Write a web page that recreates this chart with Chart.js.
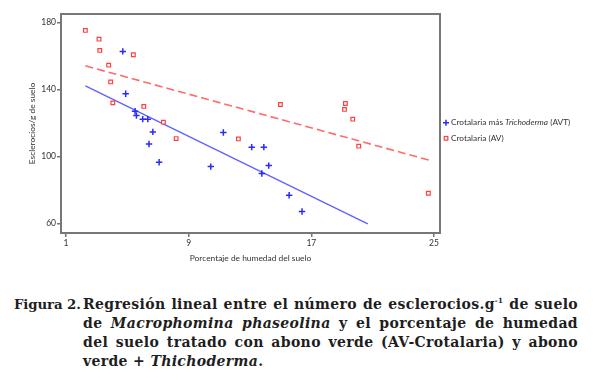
<!DOCTYPE html>
<html>
<head>
<meta charset="utf-8">
<script src="https://cdn.jsdelivr.net/npm/chart.js@4.4.1/dist/chart.umd.min.js"></script>
<style>
  html, body { margin: 0; padding: 0; background: #fff; }
  body { width: 600px; height: 378px; position: relative; overflow: hidden; }
  #chartBox { position: absolute; left: 0; top: 0; width: 600px; height: 280px; }
  #caption { position: absolute; left: 14px; top: 295px; width: 564px; display: flex;
    font-family: "DejaVu Serif", serif; font-weight: bold; font-size: 14px; line-height: 19px; color: #1e1e1e; }
  #caption .lab { width: 69px; flex: none; white-space: nowrap; font-size: 13.3px; letter-spacing: -0.1px; }
  #caption .txt { width: 495px; flex: none; letter-spacing: 0.35px; }
  #caption .ln { text-align: justify; text-align-last: justify; white-space: nowrap; }
  #caption .ln.last { text-align-last: left; }
  #caption sup { font-size: 7px; vertical-align: 6px; line-height: 0; }
</style>
</head>
<body>
<div id="chartBox"><canvas id="c" width="600" height="280"></canvas></div>
<div id="caption">
  <div class="lab">Figura 2.</div>
  <div class="txt">
    <div class="ln">Regresión lineal entre el número de esclerocios.g<sup>-1</sup> de suelo</div>
    <div class="ln">de <i>Macrophomina phaseolina</i> y el porcentaje de humedad</div>
    <div class="ln">del suelo tratado con abono verde (AV-Crotalaria) y abono</div>
    <div class="ln last">verde + <i>Thichoderma</i>.</div>
  </div>
</div>
<script>
// Data
const avtX = [4.70, 4.89, 5.50, 5.59, 6.00, 6.33, 6.66, 6.41, 7.07, 10.44, 11.26, 13.11, 13.90, 14.22, 13.77, 15.55, 16.39];
const avtY = [162.7, 137.4, 127.0, 124.5, 122.3, 122.3, 114.7, 107.5, 96.6, 94.0, 114.3, 105.6, 105.6, 94.6, 89.9, 76.9, 67.2];
const avX  = [2.26, 3.15, 3.20, 5.39, 3.78, 3.91, 4.05, 6.07, 7.35, 8.18, 12.24, 14.98, 19.22, 19.16, 19.70, 20.09, 24.63];
const avY  = [175.2, 170.0, 163.3, 160.7, 154.5, 144.5, 132.0, 129.9, 120.5, 110.7, 110.5, 131.0, 131.6, 128.1, 122.3, 106.2, 78.1];
// Regression line end points
const avtFitX = [2.26, 20.68];
const avtFitY = [142.2, 59.8];
const avFitX  = [2.26, 24.7];
const avFitY  = [154.1, 97.8];
// Ticks
const xTicks = [1, 9, 17, 25];
const yTicks = [60, 100, 140, 180];
const legendLabels = ["Crotalaria más ", "Trichoderma", " (AVT)", "Crotalaria (AV)"];

const zip = (xs, ys) => xs.map((x, i) => ({x, y: ys[i]}));

const BLUE = '#2b2bf5', BLUE_LINE = '#6262ff', RED = '#ff4040', RED_LINE = '#ff6a6a', FRAME = '#777';
const FONT = 'Lato, "Open Sans", sans-serif';

const framePlugin = {
  id: 'frame',
  afterDraw(chart) {
    const {ctx, chartArea: a} = chart;
    ctx.save();
    ctx.strokeStyle = FRAME;
    ctx.lineWidth = 2;
    ctx.strokeRect(a.left, a.top, a.right - a.left, a.bottom - a.top);
    // legend
    const lx = 446, y1 = 122.7, y2 = 138.3;
    ctx.fillStyle = '#333';
    ctx.textBaseline = 'middle';
    const norm = '8.3px ' + FONT, ital = 'italic 8.3px ' + FONT;
    let x = 451;
    ctx.font = norm; ctx.fillText(legendLabels[0], x, y1); x += ctx.measureText(legendLabels[0]).width;
    ctx.font = ital; ctx.fillText(legendLabels[1], x, y1); x += ctx.measureText(legendLabels[1]).width;
    ctx.font = norm; ctx.fillText(legendLabels[2], x, y1);
    ctx.fillText(legendLabels[3], 451, y2);
    // markers
    ctx.strokeStyle = BLUE; ctx.lineWidth = 1.5;
    ctx.beginPath(); ctx.moveTo(lx - 3, y1); ctx.lineTo(lx + 3, y1); ctx.moveTo(lx, y1 - 3); ctx.lineTo(lx, y1 + 3); ctx.stroke();
    ctx.strokeStyle = RED; ctx.lineWidth = 1.2;
    ctx.strokeRect(lx - 1.8, y2 - 1.8, 3.6, 3.6);
    ctx.restore();
  }
};

new Chart(document.getElementById('c'), {
  type: 'scatter',
  data: {
    datasets: [
      { label: 'Crotalaria más Trichoderma (AVT)', data: zip(avtX, avtY), pointStyle: 'cross',
        pointRadius: 3.2, pointBorderWidth: 1.5, borderColor: BLUE, backgroundColor: BLUE, order: 0 },
      { label: 'Crotalaria (AV)', data: zip(avX, avY), pointStyle: 'rect',
        pointRadius: 2.6, pointBorderWidth: 1.2, borderColor: RED, backgroundColor: '#fff', order: 0 },
      { type: 'line', label: 'fit AVT', data: zip(avtFitX, avtFitY), showLine: true, pointRadius: 0,
        borderColor: BLUE_LINE, borderWidth: 1.4, fill: false, order: 1 },
      { type: 'line', label: 'fit AV', data: zip(avFitX, avFitY), showLine: true, pointRadius: 0,
        borderColor: RED_LINE, borderWidth: 1.6, borderDash: [8, 4], fill: false, order: 1 }
    ]
  },
  options: {
    responsive: false,
    animation: false,
    devicePixelRatio: 1,
    layout: { padding: { left: 0, top: 14, right: 160, bottom: 0 } },
    plugins: { legend: { display: false }, tooltip: { enabled: false } },
    scales: {
      x: {
        type: 'linear', min: 0.67, max: 25.39,
        afterBuildTicks: ax => { ax.ticks = xTicks.map(v => ({value: v})); },
        afterFit: ax => { ax.height = 47; },
        grid: { display: true, drawOnChartArea: false, tickLength: 4, color: FRAME, lineWidth: 1.5 },
        border: { display: false },
        ticks: { color: '#333', font: { family: FONT, size: 8.5 }, padding: 1, maxRotation: 0 },
        title: { display: true, text: 'Porcentaje de humedad del suelo', color: '#333',
                 font: { family: FONT, size: 8.4 }, padding: { top: 0, bottom: 17 } }
      },
      y: {
        type: 'linear', min: 54.4, max: 185,
        afterBuildTicks: ax => { ax.ticks = yTicks.map(v => ({value: v})); },
        afterFit: ax => { ax.width = 61; },
        grid: { display: true, drawOnChartArea: false, tickLength: 4, color: FRAME, lineWidth: 1.5 },
        border: { display: false },
        ticks: { color: '#333', font: { family: FONT, size: 8.5 }, padding: 1 },
        title: { display: true, text: 'Esclerocios/g de suelo', color: '#333',
                 font: { family: FONT, size: 8.4 }, padding: { top: 27, bottom: 0 } }
      }
    }
  },
  plugins: [framePlugin]
});
</script>
</body>
</html>
